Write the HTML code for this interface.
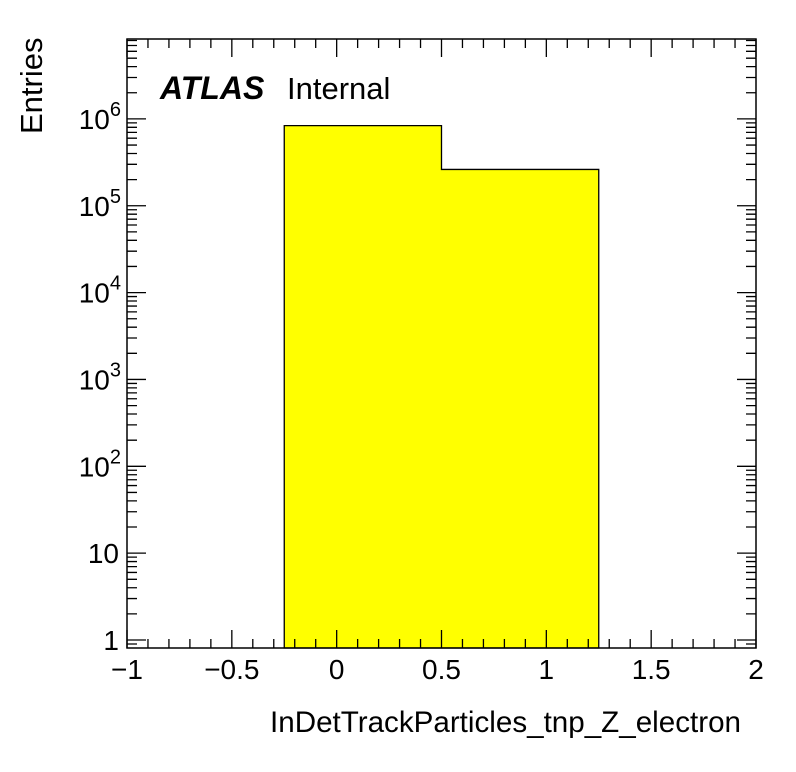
<!DOCTYPE html>
<html><head><meta charset="utf-8"><style>
html,body{margin:0;padding:0;background:#fff;}
svg{display:block;font-family:"Liberation Sans",Arial,sans-serif;}
</style></head><body>
<svg id="chart" width="796" height="772" viewBox="0 0 796 772">
<rect x="0" y="0" width="796" height="772" fill="#fff"/>
<g id="bars"></g>
<g id="axes"></g>
<text x="160" y="99" font-size="32" font-weight="bold" font-style="italic">ATLAS</text>
<text x="287" y="99" font-size="31">Internal</text>
<text transform="translate(42,134) rotate(-90)" font-size="31">Entries</text>
<text x="741" y="732" font-size="29.6" text-anchor="end">InDetTrackParticles_tnp_Z_electron</text>
</svg>
<script>
const binEdges = [-0.25, 0.5, 1.25];
const binCounts = [837000, 262000];
const xTickLabels = ["\u22121","\u22120.5","0","0.5","1","1.5","2"];
const xTickValues = [-1,-0.5,0,0.5,1,1.5,2];
const yDecades = [0,1,2,3,4,5,6];

const L=127,R=756,T=39,B=648;
const xMin=-1,xMax=2, logMin=-0.092, logMax=6.92;
function xs(v){return L+(v-xMin)/(xMax-xMin)*(R-L);}
function ys(v){return B-(Math.log10(v)-logMin)/(logMax-logMin)*(B-T);}
const NS="http://www.w3.org/2000/svg";
function mk(tag,attrs,parent){const e=document.createElementNS(NS,tag);for(const k in attrs)e.setAttribute(k,attrs[k]);parent.appendChild(e);return e;}
const bars=document.getElementById('bars'), axes=document.getElementById('axes');

let d="M"+xs(binEdges[0])+","+B;
for(let i=0;i<binCounts.length;i++){d+=" L"+xs(binEdges[i])+","+ys(binCounts[i])+" L"+xs(binEdges[i+1])+","+ys(binCounts[i]);}
d+=" L"+xs(binEdges[binEdges.length-1])+","+B+" Z";
for(let i=0;i<binCounts.length;i++){
  const r=mk('rect',{x:xs(binEdges[i]),y:ys(binCounts[i]),width:xs(binEdges[i+1])-xs(binEdges[i]),height:B-ys(binCounts[i]),fill:'#ffff00'},bars);
  
  
}
const outline=mk('path',{d:d,fill:'none',stroke:'#000','stroke-width':1.3},bars);



const frame=mk('rect',{x:L,y:T,width:R-L,height:B-T,fill:'none',stroke:'#000','stroke-width':1.5},axes);



let tp="";
for(let k=0;k<=30;k++){
  const v=xMin+k*0.1; const x=xs(v); const len=(k%5===0)?18:9;
  tp+="M"+x+","+B+" v"+(-len)+" M"+x+","+T+" v"+len+" ";
}
for(let dcd=-1;dcd<=6;dcd++){
  for(let m=1;m<=9;m++){
    const v=m*Math.pow(10,dcd); const lg=Math.log10(v);
    if(lg<logMin||lg>logMax)continue;
    const y=ys(v); const len=(m===1)?19:10;
    tp+="M"+L+","+y+" h"+len+" M"+R+","+y+" h"+(-len)+" ";
  }
}
const ticks=mk('path',{d:tp,stroke:'#000','stroke-width':1.3,fill:'none'},axes);



xTickValues.forEach((v,i)=>{
  const t=mk('text',{x:xs(v),y:679,'font-size':28,'text-anchor':'middle'},axes);
  t.textContent=xTickLabels[i];
  
  
});
yDecades.forEach(p=>{
  const y=ys(Math.pow(10,p));
  const t=mk('text',{x:119,y:y+10,'font-size':28,'text-anchor':'end'},axes);
  
  
  if(p===0){t.textContent="1";}
  else if(p===1){t.textContent="10";}
  else{
    t.textContent="10";
    const s=mk('tspan',{dy:-13,'font-size':20},t); s.textContent=String(p);
    t.setAttribute('x',121);
  }
});
</script>
</body></html>
